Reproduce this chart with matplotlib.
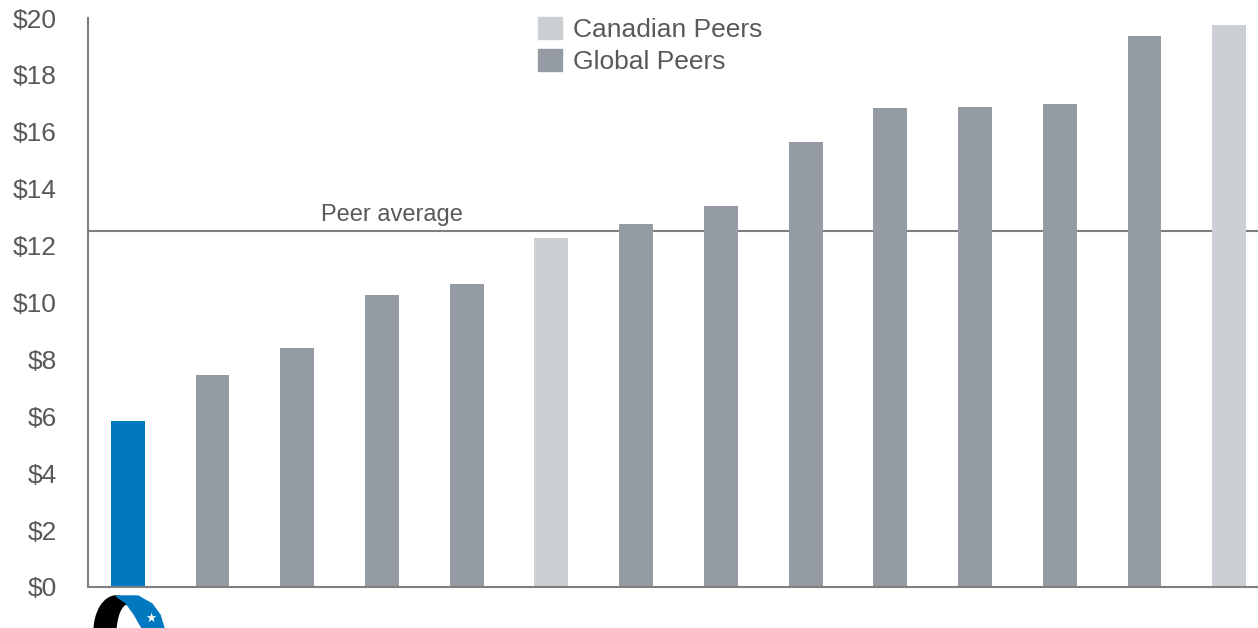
import matplotlib.pyplot as plt
from matplotlib.patches import Patch, Ellipse, Polygon
import numpy as np

plt.rcParams['font.family'] = ['Liberation Sans', 'DejaVu Sans']

# bar values ($), in order left to right
values = [5.83, 7.45, 8.40, 10.26, 10.65, 12.27, 12.76, 13.39,
          15.64, 16.84, 16.87, 16.98, 19.37, 19.75]
groups = ['Company', 'Global', 'Global', 'Global', 'Global', 'Canadian', 'Global',
          'Global', 'Global', 'Global', 'Global', 'Global', 'Global', 'Canadian']
peer_avg = 12.5
yticks = [0, 2, 4, 6, 8, 10, 12, 14, 16, 18, 20]

colors = {'Company': '#0079C1', 'Global': '#959BA2', 'Canadian': '#CCCFD3'}
text_col = '#595959'

fig = plt.figure(figsize=(12.58, 6.28), dpi=100)
ax = fig.add_axes([88/1258, 41/628, 1170/1258, 569/628])

x = np.arange(len(values))
ax.bar(x, values, width=0.4, color=[colors[g] for g in groups])
ax.axhline(peer_avg, color='#7F7F7F', lw=1.5, zorder=0)
ax.text(3.12, peer_avg + 0.2, 'Peer average', fontsize=17, color=text_col,
        ha='center', va='bottom')

ax.set_xlim(-0.47, 13.34)
ax.set_ylim(0, 20)
ax.set_yticks(yticks)
ax.set_yticklabels(['$%d' % v for v in yticks])
ax.tick_params(axis='y', length=0, labelsize=19, labelcolor=text_col, pad=22.5)
ax.set_xticks([])
for s in ['top', 'right']:
    ax.spines[s].set_visible(False)
ax.spines['left'].set_color('#7F7F7F')
ax.spines['bottom'].set_color('#7F7F7F')
ax.spines['left'].set_linewidth(1.5)
ax.spines['bottom'].set_linewidth(1.5)

handles = [Patch(color=colors['Canadian'], label='Canadian Peers'),
           Patch(color=colors['Global'], label='Global Peers')]
leg = ax.legend(handles=handles, loc='upper left', bbox_to_anchor=(0.3845, 1.002),
                frameon=False, fontsize=19, handlelength=0.9, handleheight=0.9,
                handletextpad=0.42, labelspacing=0.27, borderaxespad=0, borderpad=0)
for t in leg.get_texts():
    t.set_color(text_col)

# small logo under first bar (pixel coords, y downward)
lax = fig.add_axes([90/1258, 0, 80/1258, 38/628])
lax.set_xlim(90, 170)
lax.set_ylim(628, 590)
lax.axis('off')
lax.add_patch(Ellipse((116, 632), 44, 72, color='black'))
lax.add_patch(Ellipse((128, 636), 22, 62, color='white'))
lax.add_patch(Polygon([[116, 596], [138, 596], [152, 604], [160, 615], [164, 628],
                       [142, 628], [134, 614], [126, 603]], color='#0079C1'))
lax.text(151, 619, '\u2605', color='white', fontsize=9, ha='center', va='center')

fig.savefig('out.png')
